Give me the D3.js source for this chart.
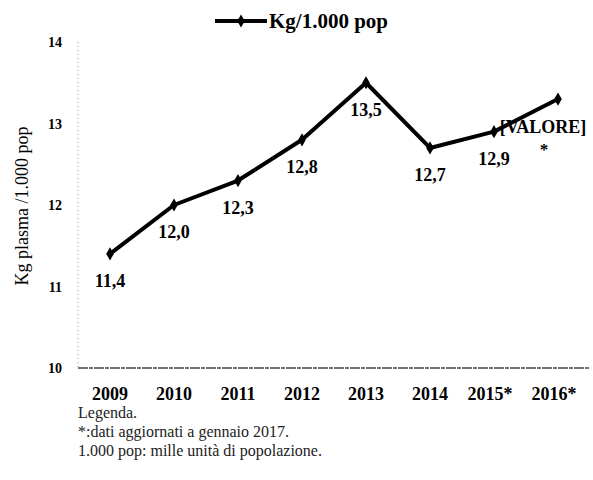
<!DOCTYPE html>
<html>
<head>
<meta charset="utf-8">
<style>
  body { margin: 0; background: #fff; }
  svg { display: block; font-family: 'Liberation Serif', 'DejaVu Serif', serif; }
</style>
</head>
<body>
<div id="chart"></div>
<script src="https://d3js.org/d3.v7.min.js"></script>
<script>
const years = ['2009', '2010', '2011', '2012', '2013', '2014', '2015*', '2016*'];
const values = [11.4, 12.0, 12.3, 12.8, 13.5, 12.7, 12.9, 13.3];
const pointLabels = ['11,4', '12,0', '12,3', '12,8', '13,5', '12,7', '12,9', '[VALORE]'];
const yTicks = [10, 11, 12, 13, 14];
const seriesName = 'Kg/1.000 pop';
const yTitle = 'Kg plasma /1.000 pop';
const notes = ['Legenda.', '*:dati aggiornati a gennaio 2017.', '1.000 pop: mille unità di popolazione.'];

const width = 593, height = 480;
const svg = d3.select('#chart').append('svg')
  .attr('width', width)
  .attr('height', height);

const x = d3.scaleBand().domain(years).range([78, 590]);
const y = d3.scaleLinear().domain([10, 14]).range([368, 42]);

// y axis: dotted, no visible ticks
svg.append('line')
  .attr('x1', 78).attr('x2', 78)
  .attr('y1', y(14)).attr('y2', y(10))
  .attr('stroke', '#999').attr('stroke-width', 1)
  .attr('stroke-dasharray', '1,3');

svg.append('g')
  .selectAll('text')
  .data(yTicks)
  .enter()
  .append('text')
  .attr('x', 62)
  .attr('y', d => y(d) + 5)
  .attr('text-anchor', 'end')
  .attr('font-weight', 'bold')
  .attr('font-size', 14)
  .text(d => d);

// x axis line
svg.append('line')
  .attr('x1', 78).attr('x2', 590)
  .attr('y1', y(10)).attr('y2', y(10))
  .attr('stroke', '#444').attr('stroke-width', 1.5)
  .attr('stroke-dasharray', '10,1,4,1');

svg.append('g')
  .selectAll('text')
  .data(years)
  .enter()
  .append('text')
  .attr('x', d => x(d) + x.bandwidth() / 2 - (d.endsWith('*') ? 4 : 0))
  .attr('y', 400)
  .attr('text-anchor', 'middle')
  .attr('font-weight', 'bold')
  .attr('font-size', 18)
  .text(d => d);

// y axis title
svg.append('text')
  .attr('transform', 'translate(28,206) rotate(-90)')
  .attr('text-anchor', 'middle')
  .attr('font-size', 18)
  .text(yTitle);

// series line
const cx = (d, i) => x(years[i]) + x.bandwidth() / 2;
const line = d3.line()
  .x((d, i) => cx(d, i))
  .y(d => y(d));

svg.append('path')
  .datum(values)
  .attr('d', line)
  .attr('fill', 'none')
  .attr('stroke', '#000')
  .attr('stroke-width', 4)
  .attr('stroke-linejoin', 'round');

svg.append('g')
  .selectAll('path')
  .data(values)
  .enter()
  .append('path')
  .attr('d', d3.symbol().type(d3.symbolDiamond).size(50))
  .attr('transform', (d, i) => `translate(${cx(d, i)},${y(d)})`)
  .attr('fill', '#000');

// data labels
const last = values.length - 1;
svg.append('g')
  .selectAll('text')
  .data(values)
  .enter()
  .append('text')
  .attr('x', (d, i) => i === last ? cx(d, i) - 15 : cx(d, i))
  .attr('y', (d, i) => i === last ? y(d) + 34 : y(d) + 33)
  .attr('text-anchor', 'middle')
  .attr('font-weight', 'bold')
  .attr('font-size', 18)
  .text((d, i) => pointLabels[i]);

svg.append('text')
  .attr('x', cx(values[last], last) - 14)
  .attr('y', y(values[last]) + 56)
  .attr('text-anchor', 'middle')
  .attr('font-weight', 'bold')
  .attr('font-size', 17)
  .text('*');

// legend
svg.append('line')
  .attr('x1', 215).attr('x2', 267)
  .attr('y1', 21).attr('y2', 21)
  .attr('stroke', '#000').attr('stroke-width', 4);
svg.append('path')
  .attr('d', d3.symbol().type(d3.symbolDiamond).size(50))
  .attr('transform', 'translate(241,21)')
  .attr('fill', '#000');
svg.append('text')
  .attr('x', 269)
  .attr('y', 28)
  .attr('font-weight', 'bold')
  .attr('font-size', 21)
  .text(seriesName);

// notes
svg.append('g')
  .selectAll('text')
  .data(notes)
  .enter()
  .append('text')
  .attr('x', 78)
  .attr('y', (d, i) => 418 + i * 19)
  .attr('font-size', 16)
  .attr('fill', '#222')
  .text(d => d);
</script>
</body>
</html>
